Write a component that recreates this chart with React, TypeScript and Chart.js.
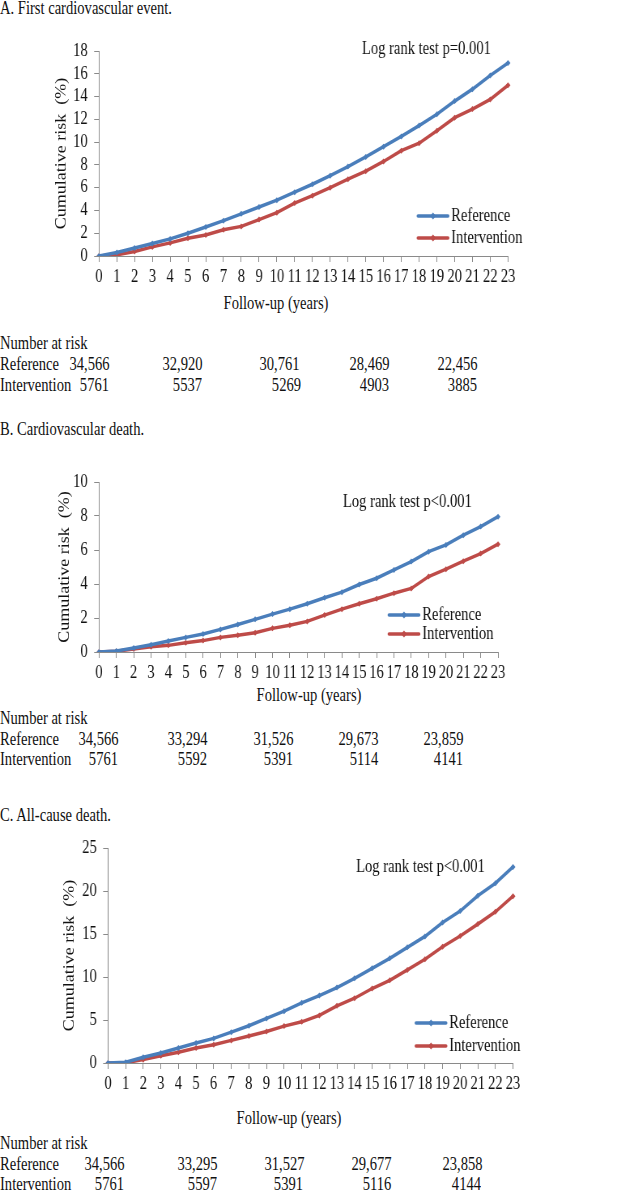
import React, { useEffect, useRef } from 'react';
import { Chart, registerables } from 'chart.js';

Chart.register(...registerables);

// ---------- data ----------
const years = ['0', '1', '2', '3', '4', '5', '6', '7', '8', '9', '10', '11', '12', '13', '14', '15', '16', '17', '18', '19', '20', '21', '22', '23'];

// A. First cardiovascular event
const refA = [0, 0.3, 0.7, 1.1, 1.5, 2.0, 2.55, 3.1, 3.7, 4.3, 4.9, 5.6, 6.3, 7.05, 7.85, 8.7, 9.6, 10.5, 11.45, 12.45, 13.6, 14.65, 15.85, 16.95];
const intA = [0, 0.1, 0.4, 0.8, 1.15, 1.55, 1.85, 2.3, 2.6, 3.2, 3.8, 4.65, 5.3, 6.0, 6.75, 7.45, 8.3, 9.25, 9.9, 11.0, 12.15, 12.9, 13.75, 15.0];

// B. Cardiovascular death
const refB = [0, 0.06, 0.23, 0.43, 0.65, 0.86, 1.06, 1.33, 1.62, 1.92, 2.23, 2.52, 2.84, 3.19, 3.52, 3.97, 4.34, 4.83, 5.32, 5.9, 6.3, 6.87, 7.38, 7.96];
const intB = [0, 0.04, 0.18, 0.31, 0.39, 0.55, 0.67, 0.86, 0.98, 1.13, 1.39, 1.57, 1.8, 2.17, 2.52, 2.84, 3.13, 3.46, 3.74, 4.44, 4.87, 5.34, 5.79, 6.34];

// C. All-cause death
const refC = [0, 0.08, 0.66, 1.16, 1.74, 2.32, 2.86, 3.59, 4.33, 5.18, 6.03, 7.0, 7.84, 8.77, 9.85, 11.01, 12.17, 13.45, 14.72, 16.34, 17.66, 19.44, 20.9, 22.8];
const intC = [0, 0.04, 0.39, 0.85, 1.24, 1.74, 2.13, 2.63, 3.13, 3.67, 4.29, 4.79, 5.53, 6.65, 7.53, 8.66, 9.62, 10.82, 12.06, 13.52, 14.76, 16.15, 17.58, 19.4];

// Number at risk
const nRefA = [34566, 32920, 30761, 28469, 22456];
const nIntA = [5761, 5537, 5269, 4903, 3885];
const nRefB = [34566, 33294, 31526, 29673, 23859];
const nIntB = [5761, 5592, 5391, 5114, 4141];
const nRefC = [34566, 33295, 31527, 29677, 23858];
const nIntC = [5761, 5597, 5391, 5116, 4144];

const seriesNames = ['Reference', 'Intervention'];
const BLUE = '#4a7ebb';
const RED = '#be4b48';
const AXIS = '#8a8a8a';
const FONT = '"Liberation Serif", "Times New Roman", serif';
const FS = 18; // font size
const PAGE_W = 634;
const CANVAS_W = 783; // drawn wide, shown condensed like the reference
const S = PAGE_W / CANVAS_W; // horizontal condensation

const annotPlugin = {
  id: 'kmAnnot',
  afterDatasetsDraw(chart: any, _args: any, opts: any) {
    const ctx = chart.ctx;
    ctx.save();
    ctx.font = `${FS}px ${FONT}`;
    ctx.textBaseline = 'middle';
    ctx.textAlign = 'left';
    ctx.fillStyle = '#111';
    ctx.fillText(opts.text, opts.textX, opts.textY);
    chart.data.datasets.forEach((ds: any, i: number) => {
      const y = opts.legendY[i];
      const x0 = opts.legendX;
      const len = opts.legendLen;
      ctx.strokeStyle = ds.borderColor;
      ctx.lineWidth = 3.5;
      ctx.lineCap = 'round';
      ctx.beginPath();
      ctx.moveTo(x0, y);
      ctx.lineTo(x0 + len, y);
      ctx.stroke();
      const cx = x0 + len / 2;
      ctx.fillStyle = ds.borderColor;
      ctx.beginPath();
      ctx.moveTo(cx, y - 3.5);
      ctx.lineTo(cx + 3.5, y);
      ctx.lineTo(cx, y + 3.5);
      ctx.lineTo(cx - 3.5, y);
      ctx.closePath();
      ctx.fill();
      ctx.fillStyle = '#111';
      ctx.fillText(ds.label, x0 + len + 4, y);
    });
    ctx.restore();
  },
};

type KMProps = {
  top: number;
  height: number;
  plotLeft: number;
  plotRight: number;
  plotTop: number;
  plotBottom: number;
  yMax: number;
  yStep: number;
  ref: number[];
  int: number[];
  yTitleX: number;
  logText: string;
  logX: number;
  logY: number;
  legendX: number;
  legendY: number[];
};

function KMChart(p: KMProps) {
  const cv = useRef<HTMLCanvasElement>(null);
  useEffect(() => {
    if (!cv.current) return;
    const tickFont = { family: FONT, size: FS };
    const chart = new Chart(cv.current, {
      type: 'line',
      data: {
        labels: years,
        datasets: [
          {
            label: seriesNames[0],
            data: p.ref,
            borderColor: BLUE,
            backgroundColor: BLUE,
            borderWidth: 3.5,
            pointStyle: 'rectRot',
            pointRadius: 3,
            pointBorderWidth: 0,
            tension: 0,
          },
          {
            label: seriesNames[1],
            data: p.int,
            borderColor: RED,
            backgroundColor: RED,
            borderWidth: 3.5,
            pointStyle: 'rectRot',
            pointRadius: 3,
            pointBorderWidth: 0,
            tension: 0,
          },
        ],
      },
      options: {
        responsive: false,
        animation: false,
        events: [],
        layout: {
          padding: { left: 0, right: CANVAS_W - p.plotRight / S, top: p.plotTop - p.top, bottom: 0 },
        },
        plugins: {
          legend: { display: false },
          tooltip: { enabled: false },
          kmAnnot: {
            text: p.logText,
            textX: p.logX / S,
            textY: p.logY - p.top,
            legendX: p.legendX / S,
            legendLen: 30 / S,
            legendY: p.legendY.map((v) => v - p.top),
          },
        } as any,
        scales: {
          x: {
            type: 'category',
            offset: false,
            grid: {
              display: true,
              drawOnChartArea: false,
              drawTicks: true,
              tickLength: 6,
              color: AXIS,
              offset: false,
            },
            border: { display: true, color: AXIS, width: 1 },
            ticks: {
              autoSkip: false,
              maxRotation: 0,
              minRotation: 0,
              padding: 4,
              color: '#111',
              font: tickFont,
            },
            afterFit: (s: any) => {
              s.height = p.top + p.height - p.plotBottom;
            },
          },
          y: {
            min: 0,
            max: p.yMax,
            grid: {
              display: true,
              drawOnChartArea: false,
              drawTicks: true,
              tickLength: 6,
              color: AXIS,
            },
            border: { display: true, color: AXIS, width: 1 },
            ticks: {
              stepSize: p.yStep,
              autoSkip: false,
              padding: 8,
              color: '#111',
              font: tickFont,
            },
            title: {
              display: true,
              text: 'Cumulative risk  (%)',
              color: '#111',
              font: { family: FONT, size: FS },
              padding: { top: p.yTitleX / S - 10.8, bottom: 0 },
            },
            afterFit: (s: any) => {
              s.width = p.plotLeft / S;
            },
          },
        },
      } as any,
      plugins: [annotPlugin],
    });
    return () => chart.destroy();
  }, []);
  return (
    <canvas
      ref={cv}
      width={CANVAS_W}
      height={p.height}
      style={{
        position: 'absolute',
        left: 0,
        top: p.top,
        width: CANVAS_W,
        height: p.height,
        transform: `scaleX(${S})`,
        transformOrigin: '0 0',
      }}
    />
  );
}

function Txt(props: { x: number; y: number; align?: 'left' | 'right' | 'center'; children: React.ReactNode }) {
  const { x, y, align = 'left' } = props;
  const base: React.CSSProperties = {
    position: 'absolute',
    top: y - 10.5,
    fontSize: FS,
    lineHeight: '21px',
    whiteSpace: 'nowrap',
    color: '#111',
  };
  let style: React.CSSProperties;
  if (align === 'left') {
    style = { ...base, left: x, transform: `scaleX(${S})`, transformOrigin: '0 50%' };
  } else if (align === 'right') {
    style = { ...base, right: PAGE_W - x, transform: `scaleX(${S})`, transformOrigin: '100% 50%' };
  } else {
    style = { ...base, left: x, transform: `translateX(-50%) scaleX(${S})`, transformOrigin: '50% 50%' };
  }
  return <div style={style}>{props.children}</div>;
}

function RiskTable(props: { y: number; rowGap: number[]; cols: number[]; colsInt: number[]; ref: number[]; int: number[] }) {
  const { y, cols, colsInt } = props;
  const y1 = y + props.rowGap[0];
  const y2 = y + props.rowGap[1];
  return (
    <>
      <Txt x={0} y={y}>Number at risk</Txt>
      <Txt x={0} y={y1}>{seriesNames[0]}</Txt>
      <Txt x={0} y={y2}>{seriesNames[1]}</Txt>
      {props.ref.map((v, i) => (
        <Txt key={'r' + i} x={cols[i]} y={y1} align="right">
          {v.toLocaleString('en-US')}
        </Txt>
      ))}
      {props.int.map((v, i) => (
        <Txt key={'i' + i} x={colsInt[i]} y={y2} align="right">
          {String(v)}
        </Txt>
      ))}
    </>
  );
}

export default function App() {
  return (
    <div
      style={{
        position: 'absolute',
        left: 0,
        top: 0,
        width: PAGE_W,
        height: 1200,
        background: '#fff',
        fontFamily: FONT,
        overflow: 'hidden',
      }}
    >
      {/* A */}
      <Txt x={0} y={8}>A. First cardiovascular event.</Txt>
      <KMChart
        top={30}
        height={262}
        plotLeft={99}
        plotRight={508}
        plotTop={51}
        plotBottom={256}
        yMax={18}
        yStep={2}
        ref={refA}
        int={intA}
        yTitleX={62}
        logText="Log rank test p=0.001"
        logX={362}
        logY={49}
        legendX={418}
        legendY={[216, 238]}
      />
      <Txt x={276} y={303} align="center">Follow-up (years)</Txt>
      <RiskTable y={343} rowGap={[21, 42]} cols={[109, 202, 299, 389, 477]} colsInt={[109, 202, 301, 389, 477]} ref={nRefA} int={nIntA} />

      {/* B */}
      <Txt x={0} y={429}>B. Cardiovascular death.</Txt>
      <KMChart
        top={455}
        height={230}
        plotLeft={99}
        plotRight={498}
        plotTop={482}
        plotBottom={652}
        yMax={10}
        yStep={2}
        ref={refB}
        int={intB}
        yTitleX={65}
        logText="Log rank test p<0.001"
        logX={343}
        logY={502}
        legendX={389}
        legendY={[615, 634]}
      />
      <Txt x={309} y={695} align="center">Follow-up (years)</Txt>
      <RiskTable y={718} rowGap={[21, 41]} cols={[118, 207, 293, 378, 463]} colsInt={[118, 207, 293, 378, 463]} ref={nRefB} int={nIntB} />

      {/* C */}
      <Txt x={0} y={815}>C. All-cause death.</Txt>
      <KMChart
        top={825}
        height={275}
        plotLeft={108}
        plotRight={513}
        plotTop={848}
        plotBottom={1063}
        yMax={25}
        yStep={5}
        ref={refC}
        int={intC}
        yTitleX={70}
        logText="Log rank test p<0.001"
        logX={356}
        logY={867}
        legendX={416}
        legendY={[1023, 1046]}
      />
      <Txt x={289} y={1118} align="center">Follow-up (years)</Txt>
      <RiskTable y={1143} rowGap={[21, 41]} cols={[124, 217, 304, 391, 482]} colsInt={[124, 217, 303, 391, 481]} ref={nRefC} int={nIntC} />
    </div>
  );
}
